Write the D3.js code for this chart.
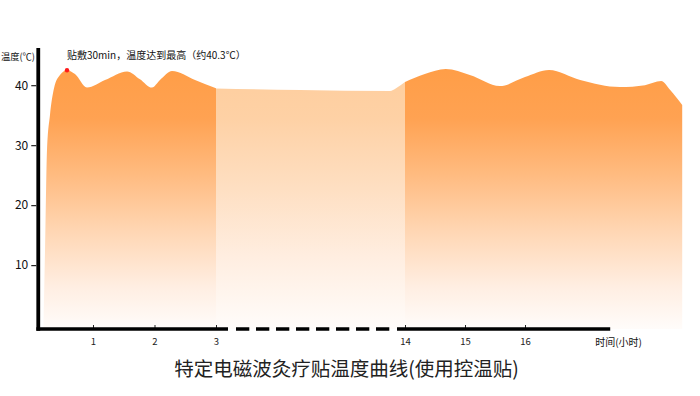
<!DOCTYPE html>
<html>
<head>
<meta charset="utf-8">
<script src="https://cdn.jsdelivr.net/npm/d3@7"></script>
<style>
  html, body { margin: 0; padding: 0; background: #ffffff; }
  svg { display: block; }
  text { font-family: "Noto Sans CJK SC", "DejaVu Sans", sans-serif; }
</style>
</head>
<body>
<svg id="chart" width="700" height="396"></svg>
<script>
// ---------------- data ----------------
// section 1: first 3 hours (hour, temperature °C)
const hours1 = [0.195, 0.22, 0.252, 0.30, 0.366, 0.463, 0.577, 0.707, 0.902, 1.195, 1.553, 1.764, 1.959, 2.089, 2.285, 2.659, 3.0];
const temps1 = [0, 12.5, 29.2, 35.0, 39.5, 41.7, 42.5, 41.85, 39.6, 40.85, 42.3, 41.0, 39.6, 40.85, 42.35, 40.85, 39.47];
// section 2: hours 3 - 14 (compressed)
const hours2 = [3.0, 7.9, 13.13, 13.48, 14.0];
const temps2 = [39.45, 39.18, 39.02, 39.5, 40.52];
// section 3: hours 14 onward
const hours3 = [14.0, 14.33, 14.68, 15.08, 15.58, 16.0, 16.4, 16.92, 17.58, 18.0, 18.27, 18.42, 18.62];
const temps3 = [40.52, 41.85, 42.68, 41.68, 39.85, 41.35, 42.52, 40.85, 39.68, 40.0, 40.68, 39.18, 36.68];

const peakHour = 0.577, peakTemp = 42.5;
const xTickValues = [1, 2, 3, 14, 15, 16];
const yTickValues = [10, 20, 30, 40];
const xAxisStart = 0.11, xAxisEnd = 17.42;
const yMin = -0.65, yMax = 46.2;

const yLabel = "温度(℃)";
const xLabel = "时间(小时)";
const note = "贴敷30min，温度达到最高（约40.3℃）";
const title = "特定电磁波灸疗贴温度曲线(使用控温贴)";

// ---------------- scales ----------------
const svg = d3.select("#chart");
const x = d3.scaleLinear().domain([0, 3, 14, 19]).range([31.5, 216, 405, 705]);
const y = d3.scaleLinear().domain([yMin, yMax]).range([329, 48]);

// ---------------- gradients ----------------
const defs = svg.append("defs");
function grad(id, stops) {
  const g = defs.append("linearGradient").attr("id", id)
    .attr("gradientUnits", "userSpaceOnUse")
    .attr("x1", 0).attr("x2", 0).attr("y1", y(yMax)).attr("y2", y(yMin));
  stops.forEach(s => g.append("stop").attr("offset", s[0]).attr("stop-color", s[1]));
}
grad("gDark", [[0, "#FF9C43"], [0.25, "#FFA252"], [0.45, "#FFBB80"], [0.65, "#FFD6B3"], [0.85, "#FFEEE2"], [1, "#FFFCFA"]]);
grad("gLight", [[0, "#FECC9A"], [0.25, "#FED1A5"], [0.5, "#FEDFC2"], [0.75, "#FFEEE1"], [1, "#FFFCFA"]]);

const area = d3.area()
  .x(d => x(d[0])).y0(y(yMin)).y1(d => y(d[1]))
  .curve(d3.curveMonotoneX);

const zip = (a, b) => a.map((v, i) => [v, b[i]]);
svg.append("path").datum(zip(hours2, temps2)).attr("d", area).attr("fill", "url(#gLight)");
svg.append("path").datum(zip(hours1, temps1)).attr("d", area).attr("fill", "url(#gDark)");
svg.append("path").datum(zip(hours3, temps3)).attr("d", area).attr("fill", "url(#gDark)");

// peak marker
svg.append("circle").attr("cx", x(peakHour)).attr("cy", y(peakTemp)).attr("r", 2.2).attr("fill", "#ff1a1a");

// ---------------- axes ----------------
const yAxis = svg.append("g").attr("transform", `translate(${x(xAxisStart) - 2},0)`)
  .call(d3.axisLeft(y).tickValues(yTickValues).tickSize(5).tickPadding(3));
yAxis.select(".domain").remove();
yAxis.selectAll("line").attr("stroke", "#222").attr("stroke-width", 1.2);
yAxis.selectAll("text").attr("font-family", "'Liberation Sans', Arial, sans-serif")
  .attr("font-size", 12).attr("fill", "#111");

const xAxis = svg.append("g").attr("transform", `translate(0,${y(yMin)})`)
  .call(d3.axisBottom(x).tickValues(xTickValues).tickSize(-4).tickPadding(9));
xAxis.select(".domain").remove();
xAxis.selectAll("line").attr("stroke", "#222");
xAxis.selectAll("text").attr("font-family", "'DejaVu Sans', sans-serif")
  .attr("font-size", 9.5).attr("fill", "#222");

const axisY = y(yMin);
svg.append("line").attr("x1", x(xAxisStart)).attr("x2", x(xAxisStart))
  .attr("y1", y(yMax)).attr("y2", axisY + 1.8)
  .attr("stroke", "#000").attr("stroke-width", 3.8);
svg.append("line").attr("x1", x(xAxisStart) - 1.9).attr("x2", x(3) + 12)
  .attr("y1", axisY).attr("y2", axisY).attr("stroke", "#000").attr("stroke-width", 3.5);
svg.append("line").attr("x1", x(3) + 20).attr("x2", x(14) - 15)
  .attr("y1", axisY).attr("y2", axisY).attr("stroke", "#000").attr("stroke-width", 3.5)
  .attr("stroke-dasharray", "13.3,6.7");
svg.append("line").attr("x1", x(14) - 8).attr("x2", x(xAxisEnd))
  .attr("y1", axisY).attr("y2", axisY).attr("stroke", "#000").attr("stroke-width", 3.5);

// ---------------- texts ----------------
svg.append("text").attr("x", 1).attr("y", 60).attr("font-size", 9.5).attr("fill", "#111")
  .attr("textLength", 34).attr("lengthAdjust", "spacingAndGlyphs").text(yLabel);
svg.append("text").attr("x", x(xAxisEnd) - 15).attr("y", 346).attr("font-size", 10).attr("fill", "#111").text(xLabel);
svg.append("text").attr("x", 67).attr("y", 59).attr("font-size", 10).attr("fill", "#111").text(note);
svg.append("text").attr("x", 346.5).attr("y", 376).attr("text-anchor", "middle")
  .attr("font-size", 19.5).attr("fill", "#222").text(title);
</script>
</body>
</html>
